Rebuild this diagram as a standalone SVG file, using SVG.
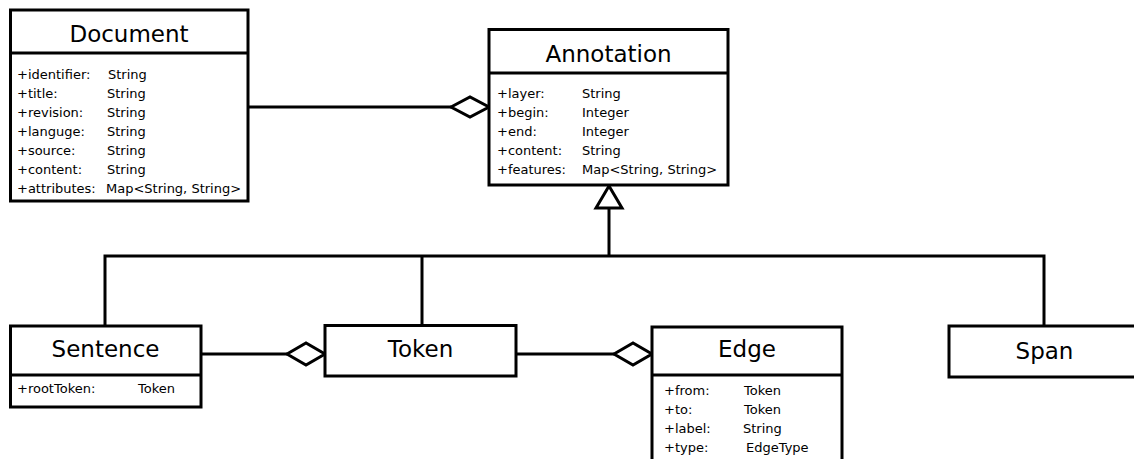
<svg xmlns="http://www.w3.org/2000/svg" width="1134" height="459" viewBox="0 0 1134 459">
<style>
.box{fill:#fff;stroke:#000;stroke-width:3}
.ln{fill:none;stroke:#000;stroke-width:3}
.dia{fill:#fff;stroke:#000;stroke-width:3;stroke-linejoin:miter}
.t{font-family:"DejaVu Sans",sans-serif;font-size:23px;text-anchor:middle;fill:#000}
.a{font-family:"DejaVu Sans",sans-serif;font-size:13px;fill:#000}
</style>
<rect width="1134" height="459" fill="#fff"/>
<g id="connectors">
<line class="ln" x1="248" y1="107" x2="451" y2="107"/>
<polygon class="dia" points="451,107 470,97 489,107 470,117"/>
<line class="ln" x1="609" y1="208" x2="609" y2="256"/>
<polygon class="dia" points="609,186 596,208 622,208"/>
<polyline class="ln" points="105,326 105,256 1044,256 1044,326"/>
<line class="ln" x1="422" y1="256" x2="422" y2="325"/>
<line class="ln" x1="201" y1="354" x2="287" y2="354"/>
<polygon class="dia" points="287,354 306,343 325,354 306,365"/>
<line class="ln" x1="516" y1="354" x2="614" y2="354"/>
<polygon class="dia" points="614,354 633,343 652,354 633,365"/>
</g>
<g id="Document">
<rect class="box" x="10.5" y="10" width="237.5" height="191"/>
<line class="ln" x1="10.5" y1="53" x2="248" y2="53"/>
<text class="t" x="129" y="42">Document</text>
<text class="a" x="17" y="79">+identifier:</text><text class="a" x="108" y="79">String</text>
<text class="a" x="17" y="98">+title:</text><text class="a" x="107" y="98">String</text>
<text class="a" x="17" y="117">+revision:</text><text class="a" x="107" y="117">String</text>
<text class="a" x="17" y="136">+languge:</text><text class="a" x="107" y="136">String</text>
<text class="a" x="17" y="155">+source:</text><text class="a" x="107" y="155">String</text>
<text class="a" x="17" y="174">+content:</text><text class="a" x="107" y="174">String</text>
<text class="a" x="17" y="193">+attributes:</text><text class="a" x="106" y="193">Map&lt;String, String&gt;</text>
</g>
<g id="Annotation">
<rect class="box" x="489" y="29.5" width="239" height="155.5"/>
<line class="ln" x1="489" y1="73" x2="728" y2="73"/>
<text class="t" x="608.5" y="62">Annotation</text>
<text class="a" x="497" y="98">+layer:</text><text class="a" x="582" y="98">String</text>
<text class="a" x="497" y="117">+begin:</text><text class="a" x="582" y="117">Integer</text>
<text class="a" x="497" y="136">+end:</text><text class="a" x="582" y="136">Integer</text>
<text class="a" x="497" y="155">+content:</text><text class="a" x="582" y="155">String</text>
<text class="a" x="497" y="174">+features:</text><text class="a" x="582" y="174">Map&lt;String, String&gt;</text>
</g>
<g id="Sentence">
<rect class="box" x="10.5" y="326" width="190.5" height="81"/>
<line class="ln" x1="10.5" y1="375" x2="201" y2="375"/>
<text class="t" x="105.5" y="357">Sentence</text>
<text class="a" x="17" y="393">+rootToken:</text><text class="a" x="138" y="393">Token</text>
</g>
<g id="Token">
<rect class="box" x="325" y="325.5" width="191" height="50.5"/>
<text class="t" x="420.5" y="357">Token</text>
</g>
<g id="Edge">
<rect class="box" x="652" y="327" width="190" height="140"/>
<line class="ln" x1="652" y1="375" x2="842" y2="375"/>
<text class="t" x="747" y="357">Edge</text>
<text class="a" x="664" y="395">+from:</text><text class="a" x="744" y="395">Token</text>
<text class="a" x="664" y="414">+to:</text><text class="a" x="744" y="414">Token</text>
<text class="a" x="664" y="433">+label:</text><text class="a" x="743" y="433">String</text>
<text class="a" x="664" y="452">+type:</text><text class="a" x="746" y="452">EdgeType</text>
</g>
<g id="Span">
<rect class="box" x="949" y="326" width="195" height="51"/>
<text class="t" x="1044.5" y="359">Span</text>
</g>
</svg>
